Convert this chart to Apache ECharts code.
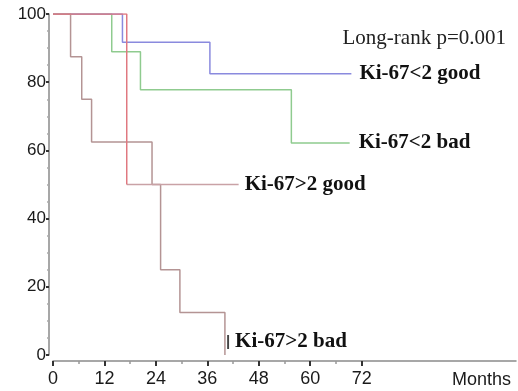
<!DOCTYPE html>
<html>
<head>
<meta charset="utf-8">
<script src="https://cdn.jsdelivr.net/npm/echarts@6/dist/echarts.min.js"></script>
<style>
  html, body { margin: 0; background: #fff; }
  #main { width: 518px; height: 391px; }
</style>
</head>
<body>
<div id="main"></div>
<script>
// tick labels
const xTicks = [0, 12, 24, 36, 48, 60, 72];
const xMinorTicks = [6, 18, 30, 42, 54, 66];

// Kaplan-Meier curves: time in months, survival in %
const lowGoodTime = [0, 16.2, 36.6, 69.6];
const lowGoodSurv = [100, 91.7, 82.5, 82.5];

const lowBadTime = [0, 13.7, 20.4, 55.6, 69.2];
const lowBadSurv = [100, 88.9, 77.8, 62.2, 62.2];

const highGoodTime = [0, 17.2, 43.3];
const highGoodSurv = [100, 50, 50];

const highBadTime = [0, 4.1, 6.7, 9.0, 23.1, 25.1, 29.6, 40.1];
const highBadSurv = [100, 87.5, 75, 62.5, 50, 25, 12.5, 0];

const names = ['Ki-67<2 good', 'Ki-67<2 bad', 'Ki-67>2 good', 'Ki-67>2 bad'];

const zip = (t, s) => t.map((v, i) => [v, s[i]]);

const labelFont = {
  fontFamily: 'Liberation Serif',
  fontWeight: 'bold',
  fontSize: 21,
  color: '#111'
};

const chart = echarts.init(document.getElementById('main'));

const highGood = zip(highGoodTime, highGoodSurv);

const option = {
  animation: false,
  grid: { left: 53, top: 14, right: 2, bottom: 36, outerBoundsMode: 'none' },
  xAxis: [
    {
      type: 'value',
      min: 0,
      max: 108,
      offset: 6,
      splitLine: { show: false },
      axisLine: { onZero: false, lineStyle: { color: '#8a8a8a', width: 1.5 } },
      axisTick: {
        customValues: xTicks,
        length: 5,
        lineStyle: { color: '#333', width: 2 }
      },
      axisLabel: {
        customValues: xTicks,
        margin: 9,
        fontFamily: 'Liberation Sans',
        fontSize: 18,
        color: '#1a1a1a'
      }
    },
    {
      type: 'value',
      min: 0,
      max: 108,
      position: 'bottom',
      offset: 6,
      splitLine: { show: false },
      axisLine: { show: false, onZero: false },
      axisTick: {
        customValues: xMinorTicks,
        length: 3,
        lineStyle: { color: '#999', width: 1.5 }
      },
      axisLabel: { show: false }
    }
  ],
  yAxis: {
    type: 'value',
    min: 0,
    max: 100,
    interval: 20,
    offset: 4,
    splitLine: { show: false },
    axisLine: { show: true, onZero: false, lineStyle: { color: '#8a8a8a', width: 1.5 } },
    axisTick: { show: true, length: 3, lineStyle: { color: '#333', width: 2 } },
    minorTick: { show: true, splitNumber: 4, length: 2, lineStyle: { color: '#aaa', width: 1.5 } },
    axisLabel: {
      margin: 3,
      fontFamily: 'Liberation Sans',
      fontSize: 17,
      color: '#1a1a1a'
    }
  },
  series: [
    {
      name: names[1],
      type: 'line',
      step: 'end',
      symbol: 'none',
      data: zip(lowBadTime, lowBadSurv),
      lineStyle: { color: '#8fcb8f', width: 1.5 },
      endLabel: { show: true, formatter: names[1], distance: 9, ...labelFont }
    },
    {
      name: names[0],
      type: 'line',
      step: 'end',
      symbol: 'none',
      data: zip(lowGoodTime, lowGoodSurv),
      lineStyle: { color: '#8a8ade', width: 1.5 },
      endLabel: { show: true, formatter: names[0], distance: 8, ...labelFont }
    },
    {
      name: names[3],
      type: 'line',
      step: 'end',
      symbol: 'none',
      data: zip(highBadTime, highBadSurv),
      lineStyle: { color: '#b49494', width: 1.5 },
      endLabel: {
        show: true,
        formatter: '{bar||}' + names[3],
        distance: 1,
        offset: [0, -13],
        ...labelFont,
        rich: { bar: { fontFamily: 'Liberation Sans', fontSize: 15, color: '#444', padding: [0, 5, 0, 0] } }
      }
    },
    {
      name: names[2],
      type: 'line',
      step: 'end',
      symbol: 'none',
      data: highGood.slice(1),
      lineStyle: { color: '#c9a2a6', width: 1.5 },
      endLabel: { show: true, formatter: names[2], distance: 6, ...labelFont }
    },
    {
      name: names[2] + ' drop',
      type: 'line',
      step: 'end',
      symbol: 'none',
      data: highGood.slice(0, 2),
      lineStyle: { color: '#e07880', width: 1.5 }
    }
  ],
  graphic: [
    {
      type: 'text',
      right: 12,
      top: 28,
      style: {
        text: 'Long-rank p=0.001',
        fontFamily: 'Liberation Serif',
        fontSize: 21,
        fill: '#222'
      }
    },
    {
      type: 'text',
      right: 7,
      bottom: 2,
      style: {
        text: 'Months',
        fontFamily: 'Liberation Sans',
        fontSize: 18,
        fill: '#1a1a1a'
      }
    }
  ]
};

chart.setOption(option);
</script>
</body>
</html>
